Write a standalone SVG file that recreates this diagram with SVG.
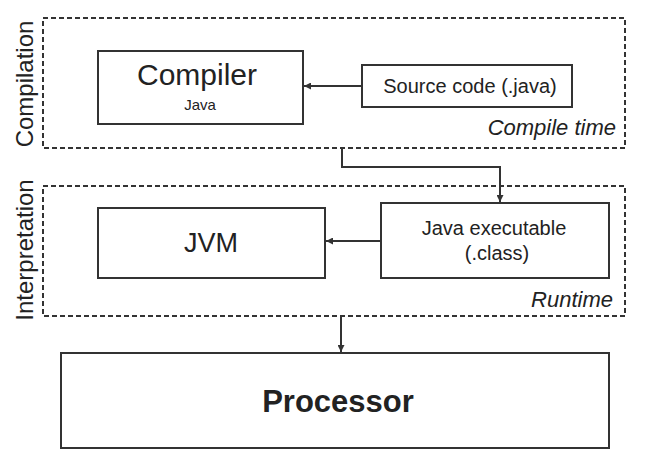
<svg xmlns="http://www.w3.org/2000/svg" width="668" height="468" viewBox="0 0 668 468">
<defs>
<marker id="ah" viewBox="0 0 10 10" refX="10" refY="5" markerWidth="9" markerHeight="7" markerUnits="userSpaceOnUse" orient="auto">
<path d="M0,0 L10,5 L0,10 z" fill="#333"/>
</marker>
<style>
.t{font-family:"Liberation Sans",Arial,sans-serif;fill:#222}
.box{fill:#fff;stroke:#333;stroke-width:2}
.zone{fill:none;stroke:#333;stroke-width:2;stroke-dasharray:5 3}
.c{fill:none;stroke:#333;stroke-width:2}
.it{font-style:italic}
</style>
</defs>
<rect width="668" height="468" fill="#fff"/>
<g id="compilation">
<rect class="zone" x="43" y="18" width="582" height="130"/>
<text class="t" font-size="24" transform="translate(33,84) rotate(-90)" text-anchor="middle">Compilation</text>
<text class="t it" font-size="22" x="616" y="135" text-anchor="end">Compile time</text>
</g>
<g id="interpretation">
<rect class="zone" x="43" y="186" width="582" height="130"/>
<text class="t" font-size="24" transform="translate(33,250) rotate(-90)" text-anchor="middle">Interpretation</text>
<text class="t it" font-size="22" x="613" y="307" text-anchor="end">Runtime</text>
</g>
<g id="compiler">
<rect class="box" x="98" y="51" width="205" height="73"/>
<text class="t" font-size="30" x="197" y="85" text-anchor="middle">Compiler</text>
<text class="t" font-size="15" x="200" y="110" text-anchor="middle" fill="#444">Java</text>
</g>
<g id="source">
<rect class="box" x="362" y="65" width="210" height="42"/>
<text class="t" font-size="20" x="470" y="93" text-anchor="middle">Source code (.java)</text>
</g>
<g id="jvm">
<rect class="box" x="98" y="208" width="227" height="70"/>
<text class="t" font-size="27" x="211" y="252" text-anchor="middle">JVM</text>
</g>
<g id="executable">
<rect class="box" x="381" y="203" width="228" height="75"/>
<text class="t" font-size="20" x="494" y="235" text-anchor="middle">Java executable</text>
<text class="t" font-size="20" x="497" y="260" text-anchor="middle">(.class)</text>
</g>
<g id="processor">
<rect class="box" x="61" y="353" width="548" height="95"/>
<text class="t" font-size="31" font-weight="bold" x="338" y="412" text-anchor="middle" fill="#000">Processor</text>
</g>
<g id="connectors">
<path class="c" d="M362,86 L304,86" marker-end="url(#ah)"/>
<path class="c" d="M342,149 L342,167 L500,167 L500,202" marker-end="url(#ah)"/>
<path class="c" d="M381,241 L326,241" marker-end="url(#ah)"/>
<path class="c" d="M341,317 L341,352" marker-end="url(#ah)"/>
</g>
</svg>
